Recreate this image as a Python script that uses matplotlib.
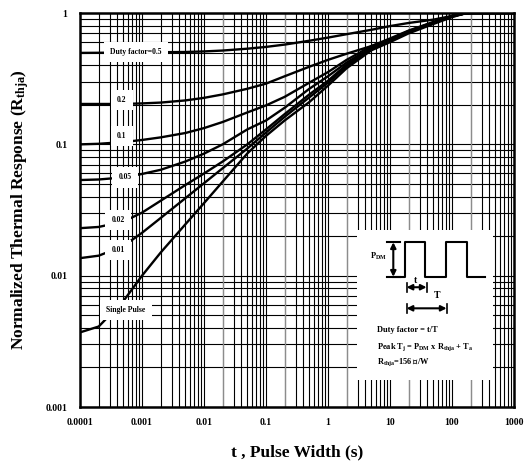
import matplotlib.pyplot as plt
import numpy as np
from matplotlib.patches import Rectangle
from matplotlib.ticker import LogLocator, NullFormatter

t_grid = [1e-4, 2e-4, 5e-4, 1e-3, 2e-3, 5e-3, 0.01, 0.02, 0.05, 0.1, 0.2, 0.5,
          1, 2, 5, 10, 20, 50, 100, 150, 200, 1000]

# normalized thermal response for each duty factor
r_d05 = [0.497, 0.498, 0.500, 0.502, 0.503, 0.505, 0.510, 0.518, 0.535, 0.552, 0.575, 0.615,
         0.650, 0.690, 0.745, 0.795, 0.840, 0.890, 0.950, 0.985, 1.0, 1.0]
r_d02 = [0.203, 0.203, 0.203, 0.205, 0.208, 0.216, 0.226, 0.240, 0.265, 0.290, 0.330, 0.390,
         0.440, 0.490, 0.560, 0.625, 0.720, 0.840, 0.945, 0.985, 1.0, 1.0]
r_d01 = [0.100, 0.101, 0.104, 0.108, 0.113, 0.122, 0.133, 0.148, 0.175, 0.198, 0.230, 0.295,
         0.355, 0.440, 0.560, 0.640, 0.735, 0.855, 0.950, 0.988, 1.0, 1.0]
r_d005 = [0.0535, 0.054, 0.056, 0.0595, 0.064, 0.074, 0.085, 0.100, 0.130, 0.152, 0.190, 0.265,
          0.330, 0.420, 0.545, 0.630, 0.730, 0.850, 0.948, 0.987, 1.0, 1.0]
r_d002 = [0.0230, 0.0235, 0.0258, 0.0302, 0.0372, 0.049, 0.060, 0.074, 0.100, 0.130, 0.170, 0.240,
          0.305, 0.405, 0.535, 0.620, 0.720, 0.845, 0.945, 0.986, 1.0, 1.0]
r_d001 = [0.0136, 0.0142, 0.0168, 0.0212, 0.0275, 0.0389, 0.0506, 0.0658, 0.093, 0.123, 0.162, 0.228,
          0.295, 0.395, 0.530, 0.612, 0.712, 0.838, 0.940, 0.985, 1.0, 1.0]
r_single = [0.0037, 0.0041, 0.0064, 0.0100, 0.0150, 0.0246, 0.0357, 0.0520, 0.0853, 0.116, 0.152, 0.210,
            0.280, 0.380, 0.520, 0.600, 0.700, 0.825, 0.930, 0.983, 1.0, 1.0]

curve_labels = ["Duty factor=0.5", "0.2", "0.1", "0.05", "0.02", "0.01", "Single Pulse"]
label_t = [8.0e-4, 4.75e-4, 4.75e-4, 5.3e-4, 4.1e-4, 4.1e-4, 5.5e-4]
label_r = [0.504, 0.217, 0.116, 0.056, 0.0264, 0.0157, 0.0055]

x_ticks = [1e-4, 1e-3, 1e-2, 1e-1, 1, 10, 100, 1000]
x_tick_labels = ["0.0001", "0.001", "0.01", "0.1", "1", "10", "100", "1000"]
y_ticks = [1e-3, 1e-2, 1e-1, 1]
y_tick_labels = ["0.001", "0.01", "0.1", "1"]
gray_x = [0.02, 0.2, 2, 20, 200]

plt.rcParams["font.family"] = ["Liberation Serif", "DejaVu Serif", "DejaVu Sans"]
plt.rcParams["font.weight"] = "bold"
plt.rcParams["mathtext.fontset"] = "custom"
plt.rcParams["mathtext.rm"] = "Liberation Serif:bold"
plt.rcParams["mathtext.it"] = "Liberation Serif:bold"
plt.rcParams["mathtext.bf"] = "Liberation Serif:bold"
plt.rcParams["mathtext.default"] = "rm"
plt.rcParams["mathtext.fallback"] = "stix"

fig = plt.figure(figsize=(5.24, 4.65), dpi=100)
ax = fig.add_axes([0.1527, 0.1247, 0.8282, 0.8473])
ax.set_xscale("log")
ax.set_yscale("log")
ax.set_xlim(1e-4, 1e3)
ax.set_ylim(1e-3, 1)

# grid
ax.xaxis.set_minor_locator(LogLocator(base=10, subs=np.arange(2, 10), numticks=20))
ax.yaxis.set_minor_locator(LogLocator(base=10, subs=np.arange(2, 10), numticks=20))
ax.xaxis.set_minor_formatter(NullFormatter())
ax.yaxis.set_minor_formatter(NullFormatter())
ax.grid(which="both", color="black", lw=0.8)
for v in gray_x:
    ax.axvline(v, color="#8c8c8c", lw=0.9, zorder=1.6)

# curves
for r in [r_d05, r_d02, r_d01, r_d005, r_d002, r_d001, r_single]:
    ax.plot(t_grid, r, color="black", lw=1.7, zorder=3)

for s, tx, ry in zip(curve_labels, label_t, label_r):
    ax.text(tx, ry, s, ha="center", va="center", fontsize=5.5, fontweight="bold",
            bbox=dict(boxstyle="square,pad=0.8", fc="white", ec="none"), zorder=4)

ax.set_xticks(x_ticks)
ax.set_xticklabels(x_tick_labels)
ax.set_yticks(y_ticks)
ax.set_yticklabels(y_tick_labels)
ax.tick_params(which="both", length=0, labelsize=7)
ax.tick_params(axis="x", pad=8)
ax.tick_params(axis="y", pad=9)
for sp in ax.spines.values():
    sp.set_linewidth(1.8)

ax.set_xlabel("t , Pulse Width (s)", fontsize=12.5, fontweight="bold")
ax.set_ylabel("Normalized Thermal Response (R$_{thja}$)", fontsize=12.5, fontweight="bold")
ax.xaxis.set_label_coords(0.5, -0.096)
ax.yaxis.set_label_coords(-0.112, 0.5)

# inset with waveform and formulas
ax.add_patch(Rectangle((0.638, 0.0685), 0.314, 0.3805, transform=ax.transAxes,
                       fc="white", ec="none", zorder=2.5))
lo, hi = 0.3307, 0.418
ax.plot([0.7219, 0.749, 0.749, 0.795, 0.795, 0.843, 0.843, 0.891, 0.891, 0.933],
        [lo, lo, hi, hi, lo, lo, hi, hi, lo, lo], color="black", lw=1.5,
        transform=ax.transAxes, zorder=5)
for yy in [lo, hi]:
    ax.plot([0.7067, 0.737], [yy, yy], color="black", lw=1.5, transform=ax.transAxes, zorder=5)
arrow = dict(arrowstyle="<|-|>", color="black", lw=1.5, mutation_scale=8, shrinkA=0, shrinkB=0)
ax.annotate("", xy=(0.7219, hi), xytext=(0.7219, lo), xycoords="axes fraction", arrowprops=arrow, zorder=5)
ax.annotate("", xy=(0.7525, 0.304), xytext=(0.7986, 0.304), xycoords="axes fraction", arrowprops=arrow, zorder=5)
ax.annotate("", xy=(0.7525, 0.2505), xytext=(0.8447, 0.2505), xycoords="axes fraction", arrowprops=arrow, zorder=5)
for xx, yy in [(0.7525, 0.304), (0.7986, 0.304), (0.7525, 0.2505), (0.8447, 0.2505)]:
    ax.plot([xx, xx], [yy - 0.012, yy + 0.012], color="black", lw=1.2, transform=ax.transAxes, zorder=5)

ax.text(0.687, 0.3815, r"P$_{DM}$", transform=ax.transAxes, ha="center", va="center", fontsize=6, zorder=5)
ax.text(0.774, 0.322, "t", transform=ax.transAxes, ha="center", va="center", fontsize=7, zorder=5)
ax.text(0.822, 0.284, "T", transform=ax.transAxes, ha="center", va="center", fontsize=7, zorder=5)
ax.text(0.6836, 0.1954, "Duty factor = t/T", transform=ax.transAxes, va="center", fontsize=6, zorder=5)
ax.text(0.6836, 0.1515, r"Peak T$_j$ = P$_{DM}$ x R$_{thja}$ + T$_a$", transform=ax.transAxes,
        va="center", fontsize=6, zorder=5)
ax.text(0.6836, 0.115, "R$_{thja}$=156 $\u2103$/W", transform=ax.transAxes, va="center", fontsize=6, zorder=5)

fig.savefig("out.png", dpi=100)
